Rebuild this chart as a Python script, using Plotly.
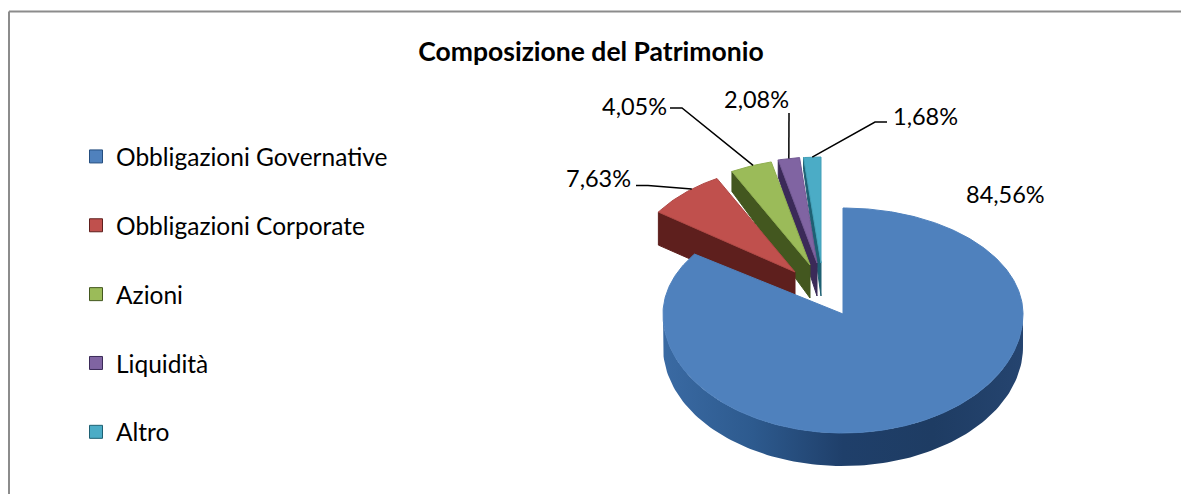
import numpy as np
import plotly.graph_objects as go

# ---- data ----
categories = ["Obbligazioni Governative", "Obbligazioni Corporate", "Azioni", "Liquidità", "Altro"]
values = [84.56, 7.63, 4.05, 2.08, 1.68]
value_labels = ["84,56%", "7,63%", "4,05%", "2,08%", "1,68%"]
title_text = "Composizione del Patrimonio"

# ---- styles ----
top_colors = ["#4F81BD", "#C0504D", "#9BBB59", "#8064A2", "#4BACC6"]
wall_colors = ["#254E7F", "#5E1F1D", "#43571F", "#3B2A58", "#1E6073"]
edge_colors = ["#4F81BD", "#B04946", "#8FAE50", "#735A94", "#43A0B8"]
FONT = "Lato, Carlito, 'Open Sans', sans-serif"
W, H = 1181, 494
M = 0  # page margin is removed below

# projected pie geometry (pixel-like axis units)
CX, CY = 843.0, 314.0
RX, R_UP, R_DOWN = 180.0, 106.0, 119.0
DEPTH = 33.0
PULLED_X_SCALE = 0.92
explode = [(0, 0), (-48, -42), (-33, -49), (-26, -51), (-22, -51)]
corner_depth = [33, 33, 20, 17, 12]
label_pos = [(1005, 194), (598, 178), (634, 106), (756, 99), (925, 116)]
elbow = [None, (648, 185.5), (682, 108), (789, 113), (875, 122)]
tail = [None, -12, -12, 0, 12]
anchor_frac = [None, 0.62, 0.55, 0.5, 0.5]


def rim(theta_deg, xscale=1.0):
    t = np.radians(theta_deg)
    s, c = np.sin(t), np.cos(t)
    return RX * xscale * s, -np.where(c >= 0, R_UP, R_DOWN) * c


edges = np.concatenate([[0], np.cumsum(values)]) / sum(values) * 360

fig = go.Figure()


def poly(x, y, color, line=None, **kw):
    fig.add_trace(go.Scatter(
        x=x, y=y, mode="lines", fill="toself", fillcolor=color,
        line=dict(color=line or color, width=1), hoverinfo="skip",
        showlegend=False, **kw))


# pulled slices, back to front
for i in [4, 3, 2, 1]:
    a0, a1 = edges[i], edges[i + 1]
    ax, ay = CX + explode[i][0], CY + explode[i][1]
    rx0, ry0 = rim(a0, PULLED_X_SCALE)
    poly([ax, ax + rx0, ax + rx0, ax, ax],
         [ay, ay + ry0, ay + ry0 + corner_depth[i], ay + DEPTH, ay],
         wall_colors[i])
    th = np.linspace(a0, a1, 30)
    rx, ry = rim(th, PULLED_X_SCALE)
    poly(np.r_[ax, ax + rx, ax], np.r_[ay, ay + ry, ay], top_colors[i], edge_colors[i])

# main slice: front wall with a shading gradient, then the top face
a0, a1 = edges[0], edges[1]
th = np.linspace(90, 270, 120)
rx, ry = rim(th)
fig.add_trace(go.Scatter(
    x=np.r_[CX + rx, (CX + rx)[::-1]],
    y=np.r_[CY + ry, (CY + ry + DEPTH)[::-1]],
    mode="lines", fill="toself", line=dict(width=0, color="#254E7F"),
    fillgradient=dict(type="horizontal", colorscale=[
        [0, "#3A6AA3"], [0.25, "#2D5A8E"], [0.5, "#1F3F6A"], [0.75, "#1E3C63"], [1, "#25446F"]]),
    hoverinfo="skip", showlegend=False))
th = np.linspace(a0, a1, 400)
rx, ry = rim(th)
poly(np.r_[CX, CX + rx, CX], np.r_[CY, CY + ry, CY], top_colors[0])

# leader lines
for i in range(1, 5):
    th_mid = edges[i] + anchor_frac[i] * (edges[i + 1] - edges[i])
    rx, ry = rim(th_mid, PULLED_X_SCALE)
    ex, ey = elbow[i]
    fig.add_trace(go.Scatter(
        x=[CX + explode[i][0] + float(rx), ex, ex + tail[i]],
        y=[CY + explode[i][1] + float(ry), ey, ey],
        mode="lines", line=dict(color="#000000", width=1.5),
        hoverinfo="skip", showlegend=False))

# value labels
for (lx, ly), txt in zip(label_pos, value_labels):
    fig.add_annotation(x=lx, y=ly, text=txt, showarrow=False,
                       font=dict(family=FONT, size=23.5, color="#000000"))

# legend entries
for i, name in enumerate(categories):
    fig.add_trace(go.Scatter(
        x=[None], y=[None], mode="markers", name=name, legendgroup=name,
        marker=dict(symbol="square", size=13, color=top_colors[i],
                    line=dict(color=wall_colors[i], width=1))))

fw, fh = W - M, H - M
fig.update_layout(
    width=fw, height=fh,
    margin=dict(l=0, r=0, t=0, b=0),
    paper_bgcolor="#FFFFFF", plot_bgcolor="#FFFFFF",
    xaxis=dict(range=[M, W], visible=False, fixedrange=True),
    yaxis=dict(range=[H, M], visible=False, fixedrange=True),
    title=dict(text="<b>" + title_text + "</b>", x=(591 - M) / fw, xanchor="center",
               y=1 - (52 - M) / fh, yanchor="middle",
               font=dict(family=FONT, size=26.5, color="#000000")),
    legend=dict(x=(76 - M) / fw, xanchor="left", y=1 - (134 - M) / fh, yanchor="top",
                tracegroupgap=34, itemsizing="trace",
                font=dict(family=FONT, size=24.5, color="#000000"),
                bgcolor="rgba(0,0,0,0)"),
    shapes=[
        dict(type="line", xref="x", yref="y", x0=9, y0=11.5, x1=W, y1=11.5,
             line=dict(color="#8C8C8C", width=2), layer="below"),
        dict(type="line", xref="x", yref="y", x0=9, y0=11.5, x1=9, y1=H,
             line=dict(color="#8C8C8C", width=2), layer="below"),
    ],
    showlegend=True,
)

fig.write_html("out.html", config={"displayModeBar": False},
               default_width=f"{fw}px", default_height=f"{fh}px",
               post_script="document.body.style.margin='0';")
